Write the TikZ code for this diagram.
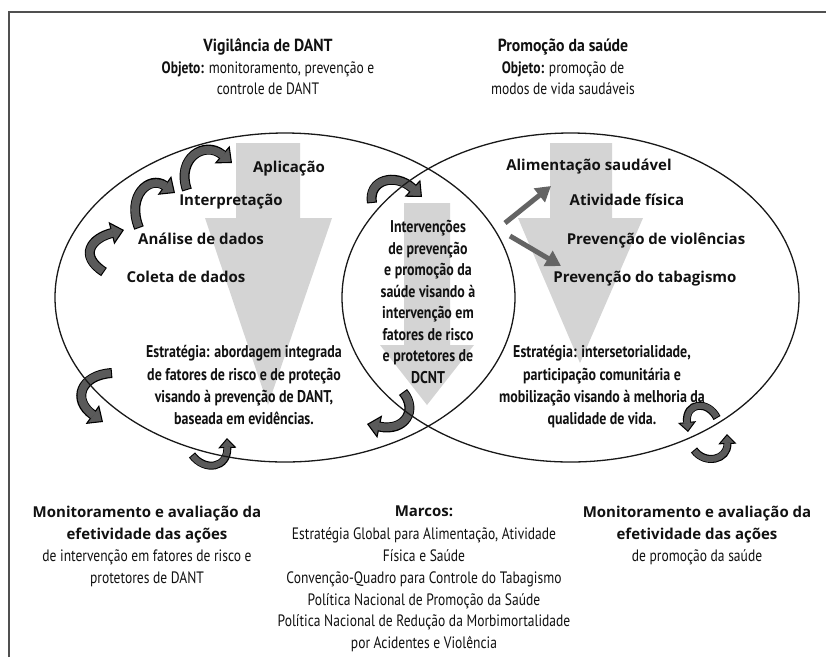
\documentclass[tikz,border=0pt]{standalone}
\usepackage{fontspec}
\setmainfont{PT Sans}
\newfontfamily\condf[FakeStretch=0.82]{PT Sans}
\newfontfamily\titf[FakeStretch=0.9]{PT Sans}
\newfontfamily\labf{Open Sans}
\usetikzlibrary{arrows.meta}
\definecolor{biggray}{HTML}{D4D4D4}
\definecolor{cgray}{HTML}{5A5A5A}
\definecolor{sgray}{HTML}{646464}
\definecolor{ink}{HTML}{111111}
\definecolor{framec}{HTML}{505050}
\tikzset{
  txt/.style={inner sep=0pt, text height=0.75em, text depth=0.25em, text=ink},
  tit/.style={txt, font=\titf\bfseries\fontsize{17.5}{20}\selectfont},
  cb/.style={txt, font=\condf\bfseries\fontsize{17}{18}\selectfont},
  cr/.style={txt, font=\condf\fontsize{16.5}{18}\selectfont},
  lab/.style={txt, font=\labf\bfseries\fontsize{15}{18}\selectfont},
  bot/.style={txt, font=\labf\bfseries\fontsize{15}{18}\selectfont},
  bigarrow/.style={fill=biggray, draw=none},
  ell/.style={draw=black!90, line width=1.3pt},
  sarrow/.style={draw=sgray, line width=5pt, -{Triangle[length=15pt,width=17pt]}},
  big outer/.style={line width=10pt, black, -{Triangle[length=13pt,width=23pt,fill=cgray,line width=1.1pt]}},
  big inner/.style={line width=7.8pt, cgray, shorten >=11.5pt, shorten <=1.1pt},
  small outer/.style={line width=8pt, black, -{Triangle[length=10pt,width=18pt,fill=cgray,line width=1pt]}},
  small inner/.style={line width=6pt, cgray, shorten >=8.5pt, shorten <=1pt},
}
\newcommand\carr[2]{\draw[#1 outer] #2; \draw[#1 inner] #2;}
\begin{document}
\begin{tikzpicture}[x=1pt,y=-1pt]
\useasboundingbox (0,0) rectangle (826,657);
\fill[white] (0,0) rectangle (826,657);
% frame
\draw[framec, line width=1.8pt] (9,657) -- (9,12) -- (826,12);
% big grey arrows
\fill[bigarrow] (236,143) -- (300,143) -- (300,218) -- (332,218) -- (268,405) -- (205,218) -- (236,218) -- cycle;
\fill[bigarrow] (550,143) -- (612,143) -- (612,218) -- (643,218) -- (580,363) -- (518,218) -- (550,218) -- cycle;
\fill[bigarrow] (404,203) -- (450,203) -- (450,345) -- (474,345) -- (427,405) -- (380,345) -- (404,345) -- cycle;
% curved arrows
\carr{big}{(187,190) .. controls (176,158) and (205,140) .. (232,163)}
\carr{big}{(139,228) .. controls (126,195) and (150,175) .. (175,193)}
\carr{big}{(104,272) .. controls (78,255) and (92,238) .. (124,230)}
\carr{big}{(112,373) .. controls (80,375) and (72,400) .. (103,422)}
\carr{big}{(372,203) .. controls (368,180) and (395,172) .. (422,197)}
\carr{big}{(403,392) .. controls (418,410) and (405,432) .. (367,424)}
\carr{small}{(192,455) .. controls (205,472) and (228,468) .. (227,438)}
\carr{small}{(717,418) .. controls (708,400) and (685,402) .. (688,432)}
\carr{small}{(694,450) .. controls (705,465) and (728,460) .. (727,434)}
% ellipses
\draw[ell] (285,297.5) ellipse [x radius=230pt, y radius=164.5pt];
\draw[ell] (570.5,297.5) ellipse [x radius=228.5pt, y radius=164.5pt];
% straight arrows
\coordinate (u1) at (505,223);
\coordinate (u2) at (551,186);
\coordinate (d1) at (510,236);
\coordinate (d2) at (561,266);
\draw[sarrow] (u1) -- (u2);
\draw[sarrow] (d1) -- (d2);
% titles
\node[tit] (t1) at (268,49) {Vigilância de DANT};
\node[cr] (t1b) at (268,71) {{\bfseries Objeto:} monitoramento, prevenção e};
\node[cr] (t1c) at (268,92) {controle de DANT};
\node[tit] (t2) at (563,49) {Promoção da saúde};
\node[cr] (t2b) at (563,71) {{\bfseries Objeto:} promoção de};
\node[cr] (t2c) at (563,92) {modos de vida saudáveis};
% labels
\node[lab] (ap) at (289,170) {Aplicação};
\node[lab] (in) at (231,203) {Interpretação};
\node[lab] (an) at (201,242) {Análise de dados};
\node[lab] (co) at (186,280) {Coleta de dados};
\node[lab] (al) at (589,168) {Alimentação saudável};
\node[lab] (at) at (627,203) {Atividade física};
\node[lab] (pv) at (656,242) {Prevenção de violências};
\node[lab] (pt) at (645,280) {Prevenção do tabagismo};
% left strategy
\node[cb] (e1) at (244,355) {Estratégia: abordagem integrada};
\node[cb] (e2) at (244,377.5) {de fatores de risco e de proteção};
\node[cb] (e3) at (244,400) {visando à prevenção de DANT,};
\node[cb] (e4) at (244,422) {baseada em evidências.};
% right strategy
\node[cb] (r1) at (602,355) {Estratégia: intersetorialidade,};
\node[cb] (r2) at (602,377.5) {participação comunitária e};
\node[cb] (r3) at (602,400) {mobilização visando à melhoria da};
\node[cb] (r4) at (602,422) {qualidade de vida.};
% center
\node[cb] (c1) at (428,230) {Intervenções};
\node[cb] (c2) at (428,251.5) {de prevenção};
\node[cb] (c3) at (428,273) {e promoção da};
\node[cb] (c4) at (428,294.5) {saúde visando à};
\node[cb] (c5) at (428,316) {intervenção em};
\node[cb] (c6) at (428,337.5) {fatores de risco};
\node[cb] (c7) at (428,359) {e protetores de};
\node[cb] (c8) at (428,380.5) {DCNT};
% bottom left
\node[bot] (b1) at (147,515) {Monitoramento e avaliação da};
\node[bot] (b2) at (147,537) {efetividade das ações};
\node[cr] (b3) at (147,559) {de intervenção em fatores de risco e};
\node[cr] (b4) at (147,581) {protetores de DANT};
% bottom center
\node[bot] (m0) at (424,514) {Marcos:};
\node[cr] (m1) at (424,536.5) {Estratégia Global para Alimentação, Atividade};
\node[cr] (m2) at (424,558.5) {Física e Saúde};
\node[cr] (m3) at (424,580.5) {Convenção-Quadro para Controle do Tabagismo};
\node[cr] (m4) at (424,602.5) {Política Nacional de Promoção da Saúde};
\node[cr] (m5) at (424,624) {Política Nacional de Redução da Morbimortalidade};
\node[cr] (m6) at (424,646) {por Acidentes e Violência};
% bottom right
\node[bot] (n1) at (697,515) {Monitoramento e avaliação da};
\node[bot] (n2) at (697,537) {efetividade das ações};
\node[cr] (n3) at (697,559) {de promoção da saúde};
\end{tikzpicture}
\end{document}
